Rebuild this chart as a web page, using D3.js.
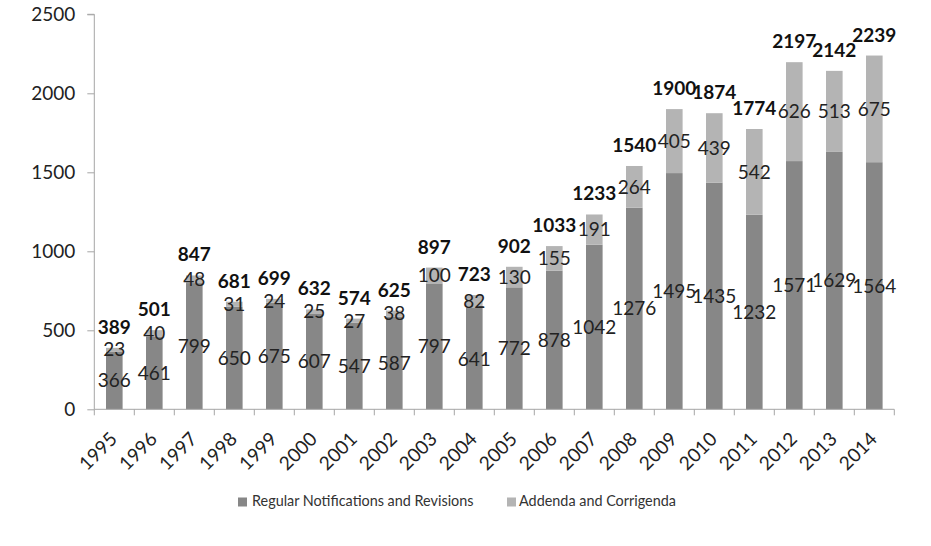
<!DOCTYPE html>
<html>
<head>
<meta charset="utf-8">
<script src="https://cdn.jsdelivr.net/npm/d3@7"></script>
<style>
html,body{margin:0;padding:0;background:#fff;}
svg{display:block;}
text{font-family:Lato,"Open Sans",sans-serif;}
</style>
</head>
<body>
<svg id="chart" width="931" height="546"></svg>
<script>
const years = ["1995","1996","1997","1998","1999","2000","2001","2002","2003","2004","2005","2006","2007","2008","2009","2010","2011","2012","2013","2014"];
const regular = [366,461,799,650,675,607,547,587,797,641,772,878,1042,1276,1495,1435,1232,1571,1629,1564];
const addenda = [23,40,48,31,24,25,27,38,100,82,130,155,191,264,405,439,542,626,513,675];
const totals = [389,501,847,681,699,632,574,625,897,723,902,1033,1233,1540,1900,1874,1774,2197,2142,2239];
const yTicks = [0,500,1000,1500,2000,2500];
const seriesNames = ["Regular Notifications and Revisions","Addenda and Corrigenda"];
const colors = ["#878787","#b4b4b4"];

const svg = d3.select("#chart");
const x0 = 94.3, x1 = 894.3, yBottom = 409.3, yTop = 14.3;
const FS = 19;

const x = d3.scaleBand().domain(years).range([x0, x1]).paddingInner(0.585).paddingOuter(0.2925);
const y = d3.scaleLinear().domain([0, 2500]).range([yBottom, yTop]);

const rows = years.map((yr, i) => ({year: yr, regular: regular[i], addenda: addenda[i], total: totals[i]}));
const stack = d3.stack().keys(["regular","addenda"]);
const layers = stack(rows);

// bars
const g = svg.append("g");
layers.forEach((layer, li) => {
  g.selectAll(null).data(layer).enter().append("rect")
    .attr("x", d => x(d.data.year))
    .attr("width", x.bandwidth())
    .attr("y", d => y(d[1]))
    .attr("height", d => y(d[0]) - y(d[1]))
    .attr("fill", colors[li]);
});

// y axis
const yAxis = d3.axisLeft(y).tickValues(yTicks).tickSize(7).tickPadding(12).tickFormat(d3.format("d"));
const ya = svg.append("g").attr("transform", `translate(${x0},0)`).call(yAxis);
ya.select(".domain").attr("stroke", "#a6a6a6").attr("d", `M-7,${yTop}H0V${yBottom}`);
ya.selectAll(".tick line").attr("stroke", "#a6a6a6");
ya.selectAll(".tick text").attr("font-size", FS).attr("fill", "#222").attr("font-family", "Lato");

// x axis
const bw = x.step();
const xa = svg.append("g").attr("transform", `translate(0,${yBottom})`);
xa.append("line").attr("x1", x0).attr("x2", x1).attr("y1", 0).attr("y2", 0).attr("stroke", "#a6a6a6");
const boundaries = d3.range(years.length + 1).map(i => x0 + i * bw);
xa.selectAll(null).data(boundaries).enter().append("line")
  .attr("x1", d => d).attr("x2", d => d).attr("y1", 0).attr("y2", 6).attr("stroke", "#a6a6a6");
xa.selectAll(null).data(years).enter().append("text")
  .attr("transform", d => `translate(${x(d) + x.bandwidth()/2 + 4},${31}) rotate(-45)`)
  .attr("text-anchor", "end")
  .attr("font-size", FS).attr("fill", "#222")
  .text(d => d);

// segment labels
layers.forEach((layer, li) => {
  g.selectAll(null).data(layer).enter().append("text")
    .attr("x", d => x(d.data.year) + x.bandwidth()/2)
    .attr("y", d => (y(d[0]) + y(d[1])) / 2)
    .attr("dy", "0.36em")
    .attr("text-anchor", "middle")
    .attr("font-size", FS).attr("fill", "#222")
    .text(d => d.data[li === 0 ? "regular" : "addenda"]);
});

// total labels
g.selectAll(null).data(rows).enter().append("text")
  .attr("x", d => x(d.year) + x.bandwidth()/2)
  .attr("y", d => y(d.total) - 14)
  .attr("text-anchor", "middle")
  .attr("font-size", FS).attr("font-weight", "bold").attr("fill", "#111")
  .text(d => d.total);

// legend
const legend = svg.append("g");
const legendItems = [
  {name: seriesNames[0], color: colors[0], sx: 238, tx: 252},
  {name: seriesNames[1], color: colors[1], sx: 507, tx: 519}
];
legendItems.forEach(it => {
  legend.append("rect").attr("x", it.sx).attr("y", 497.5).attr("width", 9).attr("height", 9).attr("fill", it.color);
  legend.append("text").attr("x", it.tx).attr("y", 506).attr("font-size", 14.4).attr("fill", "#333").text(it.name);
});
</script>
</body>
</html>
